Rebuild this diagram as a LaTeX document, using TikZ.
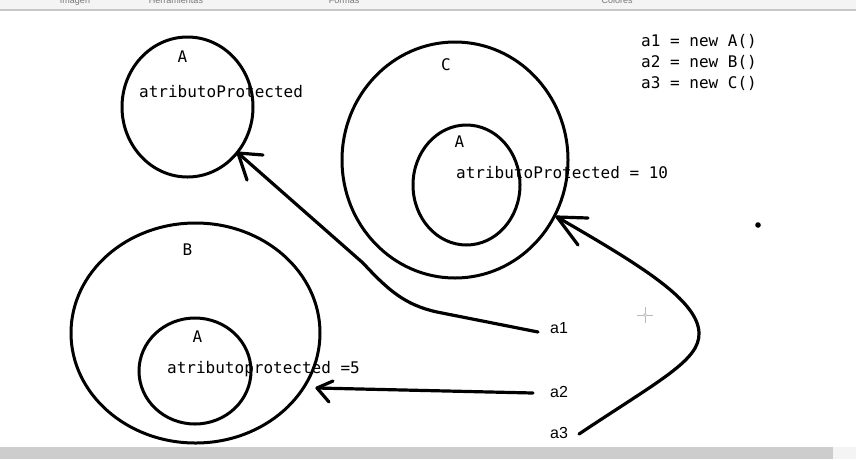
\documentclass[tikz,border=0pt]{standalone}
\usepackage{fontspec}
\newfontfamily\codefont{DejaVu Sans Mono}
\newfontfamily\labfont{Liberation Sans}
\usetikzlibrary{shapes.geometric}
\definecolor{barbottom}{RGB}{205,205,205}
\definecolor{bartop}{RGB}{244,244,244}
\definecolor{barline}{RGB}{200,200,200}
\definecolor{menutext}{RGB}{120,120,120}
\tikzset{
  oval/.style={ellipse, draw, line width=3pt, inner sep=0pt},
  code/.style={font=\codefont\fontsize{16}{16}\selectfont, inner sep=0pt},
  lab/.style={font=\labfont\fontsize{16}{16}\selectfont, inner sep=0pt, anchor=base west},
  menu/.style={font=\labfont\fontsize{9}{9}\selectfont, text=menutext, inner sep=0pt, anchor=base},
  arr/.style={line width=3.2pt, line cap=round, line join=round},
}
\begin{document}
\begin{tikzpicture}[x=1pt,y=-1pt]
\useasboundingbox (0,0) rectangle (856,459);
\clip (0,0) rectangle (856,459);
\fill[white] (0,0) rectangle (856,459);
% toolbar remnants
\fill[bartop] (0,0) rectangle (856,9);
\fill[barline] (0,9) rectangle (856,11);
\node[menu] (m1) at (75,3.5) {Imagen};
\node[menu] (m2) at (176,3.5) {Herramientas};
\node[menu] (m3) at (344,3.5) {Formas};
\node[menu] (m4) at (617,3.5) {Colores};
% bottom bar
\fill[barbottom] (0,447) rectangle (833,459);
\fill[bartop] (833,447) rectangle (856,459);

% ellipses
\node[oval, minimum width=131pt, minimum height=140pt] (A1) at (187.5,107) {};
\node[oval, minimum width=226pt, minimum height=236pt] (C) at (455,160) {};
\node[oval, minimum width=107pt, minimum height=120pt] (CA) at (466.5,185) {};
\node[oval, minimum width=249pt, minimum height=220pt] (B) at (195.5,333) {};
\node[oval, minimum width=112pt, minimum height=106pt] (BA) at (195,371) {};

% labels in ellipses
\node[code, anchor=base] (tA1) at (182.5,62) {A};
\node[code, anchor=base west] (pA1) at (139,97) {atributoProtected};
\node[code, anchor=base] (tC) at (446,70) {C};
\node[code, anchor=base] (tCA) at (459.5,147) {A};
\node[code, anchor=base west] (pCA) at (456,178) {atributoProtected = 10};
\node[code, anchor=base] (tB) at (187.5,255) {B};
\node[code, anchor=base] (tBA) at (197.5,342) {A};
\node[code, anchor=base west] (pBA) at (167,373) {atributoprotected =5};

% code lines
\node[code, anchor=base west] (l1) at (641,46) {a1 = new A()};
\node[code, anchor=base west] (l2) at (641,67) {a2 = new B()};
\node[code, anchor=base west] (l3) at (641,88) {a3 = new C()};

% variable labels
\node[lab] (a1) at (550,333) {a1};
\node[lab] (a2) at (550,397) {a2};
\node[lab] (a3) at (550,438) {a3};

% connector ends
\coordinate (s1) at (538,332);
\coordinate (s2) at (533,393);
\coordinate (s3) at (579,434);
\coordinate (hA) at (238,153);
\coordinate (hB) at (317,388);
\coordinate (hC) at (557,217);

% a1 -> A
\draw[arr] (s1) -- (437,312) .. controls (405,305) and (388,290) .. (363,263) -- (hA);
\draw[arr] (hA) -- ++(25,2);
\draw[arr] (hA) -- ++(9,27);
% a2 -> B
\draw[arr] (s2) -- (hB);
\draw[arr] (hB) -- ++(16,-7);
\draw[arr] (hB) -- ++(12,14);
% a3 -> C
\draw[arr] (s3) .. controls (660,380) and (700,360) .. (699,333)
  .. controls (698,300) and (640,265) .. (hC);
\draw[arr] (hC) -- ++(31,1);
\draw[arr] (hC) -- ++(21,28);

% stray dot and cursor
\fill (758,225) circle (2.8);
\draw[gray!55, line width=1pt] (637,315) -- (653,315) (645,307) -- (645,323);
\fill[gray!35] (645,315) circle (2);
\end{tikzpicture}
\end{document}
